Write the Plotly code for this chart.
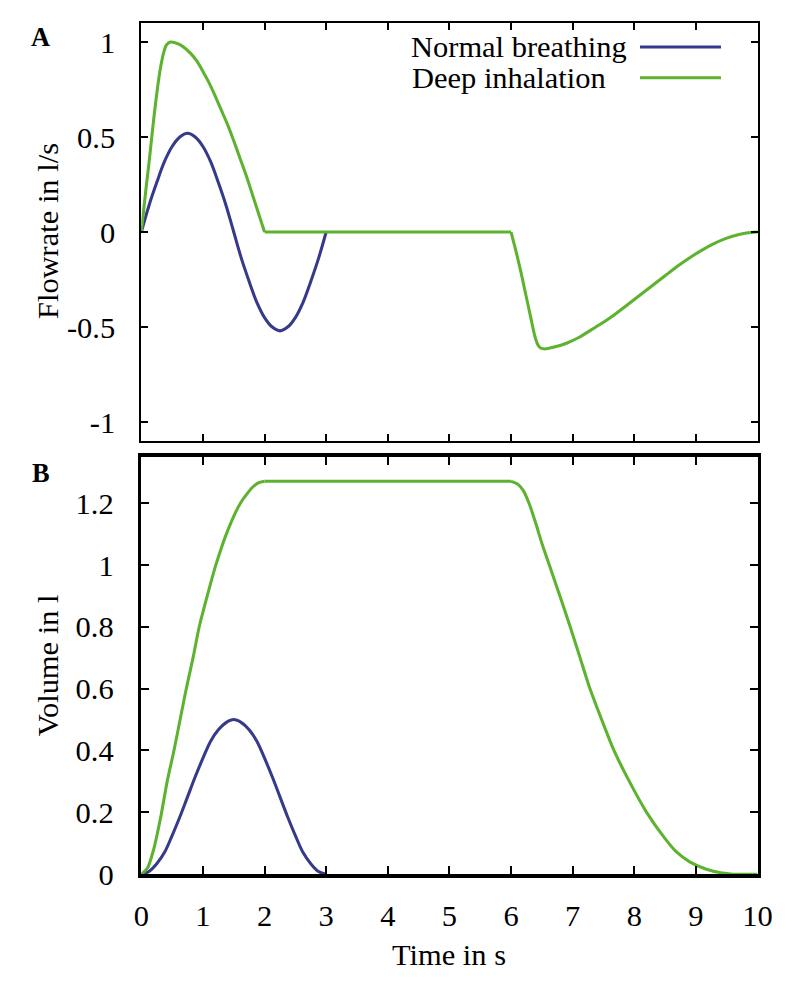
import plotly.graph_objects as go

# ---------------- data ----------------
t_normal = [0, 0.125, 0.25, 0.375, 0.5, 0.625, 0.75, 0.875, 1.0, 1.125, 1.25, 1.375, 1.5,
            1.625, 1.75, 1.875, 2.0, 2.125, 2.25, 2.375, 2.5, 2.625, 2.75, 2.875, 3.0]
flow_normal = [0, 0.14, 0.26, 0.37, 0.45, 0.50, 0.52, 0.50, 0.45, 0.37, 0.26, 0.14, 0,
               -0.14, -0.26, -0.37, -0.45, -0.50, -0.52, -0.50, -0.45, -0.37, -0.26, -0.14, 0]
vol_normal = [0, 0.009, 0.034, 0.07, 0.125, 0.185, 0.25, 0.315, 0.375, 0.43, 0.467, 0.49, 0.50,
              0.49, 0.467, 0.43, 0.375, 0.315, 0.25, 0.185, 0.125, 0.07, 0.034, 0.009, 0]

t_deep_flow = [0, 0.04, 0.08, 0.12, 0.16, 0.20, 0.24, 0.28, 0.32, 0.36, 0.40, 0.44, 0.48,
               0.6, 0.7, 0.8, 0.9, 1.0, 1.1, 1.2, 1.3, 1.4, 1.5, 1.6, 1.7, 1.8, 1.9, 2.0,
               6.0, 6.08, 6.16, 6.24, 6.32, 6.38, 6.43, 6.48, 6.55,
               6.7, 6.9, 7.1, 7.3, 7.5, 7.7, 7.9, 8.1, 8.3, 8.5, 8.7, 8.9, 9.1, 9.3, 9.5, 9.7, 9.85, 10.0]
flow_deep = [0, 0.12, 0.24, 0.35, 0.47, 0.59, 0.70, 0.80, 0.88, 0.94, 0.98, 0.995, 1.0,
             0.99, 0.97, 0.94, 0.90, 0.845, 0.785, 0.715, 0.64, 0.565, 0.48, 0.39, 0.30, 0.20, 0.10, 0,
             0, -0.10, -0.21, -0.33, -0.45, -0.54, -0.59, -0.61, -0.615,
             -0.605, -0.585, -0.555, -0.515, -0.475, -0.43, -0.38, -0.33, -0.28, -0.23, -0.18, -0.135,
             -0.095, -0.06, -0.032, -0.013, -0.004, 0]

t_deep_vol = [0, 0.1, 0.2, 0.32, 0.42, 0.53, 0.63, 0.73, 0.84, 0.94, 1.07, 1.21, 1.4, 1.61, 1.8, 1.9, 2.0,
              6.0, 6.1, 6.2, 6.3, 6.4, 6.5, 6.62, 6.8, 6.96, 7.12, 7.28, 7.47, 7.67, 7.92, 8.2, 8.5,
              8.68, 8.9, 9.16, 9.4, 9.6, 10.0]
vol_deep = [0, 0.02, 0.08, 0.19, 0.30, 0.40, 0.50, 0.60, 0.70, 0.80, 0.90, 1.0, 1.11, 1.20, 1.25, 1.265, 1.27,
            1.27, 1.262, 1.24, 1.195, 1.135, 1.07, 1.0, 0.895, 0.80, 0.70, 0.60, 0.50, 0.40, 0.30, 0.20, 0.115,
            0.073, 0.04, 0.017, 0.005, 0, 0]

x_ticks = list(range(0, 11))
flow_ticks = [-1, -0.5, 0, 0.5, 1]
flow_ticktext = ["-1", "-0.5", "0", "0.5", "1"]
vol_ticks = [0, 0.2, 0.4, 0.6, 0.8, 1.0, 1.2]
vol_ticktext = ["0", "0.2", "0.4", "0.6", "0.8", "1", "1.2"]

series_names = ["Normal breathing", "Deep inhalation"]
BLUE = "#353a8b"
GREEN = "#5db22f"

# design coordinates are in reference pixels (800 x 987); the page is captured
# slightly scaled, so the figure is enlarged by S to compensate
RW, RH = 800, 987
S = 1.0162
W, H = round(RW * S), round(RH * S)
FONT = "Liberation Serif"


def px_x(x):
    return x / RW


def px_y(y):
    return 1 - y / RH


def sz(v):
    return v * S


def isz(v):
    return int(round(v * S))


def seg(t, v, lo, hi):
    pts = [(a, b) for a, b in zip(t, v) if lo <= a <= hi]
    return [p[0] for p in pts], [p[1] for p in pts]


LW = sz(3)
fig = go.Figure()
fig.add_trace(go.Scatter(x=t_normal, y=flow_normal, mode="lines", name=series_names[0],
                         line=dict(color=BLUE, width=LW, shape="spline"), xaxis="x", yaxis="y"))
for lo, hi, shp in [(0, 2.0, "spline"), (2.0, 6.0, "linear"), (6.0, 10.0, "spline")]:
    xs, ys = seg(t_deep_flow, flow_deep, lo, hi)
    fig.add_trace(go.Scatter(x=xs, y=ys, mode="lines", name=series_names[1],
                             line=dict(color=GREEN, width=LW, shape=shp, smoothing=0.6),
                             xaxis="x", yaxis="y"))
fig.add_trace(go.Scatter(x=t_normal, y=vol_normal, mode="lines", name=series_names[0],
                         line=dict(color=BLUE, width=LW, shape="spline"), xaxis="x2", yaxis="y2"))
for lo, hi, shp in [(0, 2.0, "spline"), (2.0, 6.0, "linear"), (6.0, 9.6, "spline"), (9.6, 10.0, "linear")]:
    xs, ys = seg(t_deep_vol, vol_deep, lo, hi)
    fig.add_trace(go.Scatter(x=xs, y=ys, mode="lines", name=series_names[1],
                             line=dict(color=GREEN, width=LW, shape=shp, smoothing=0.6),
                             xaxis="x2", yaxis="y2"))

xdom = [px_x(135), px_x(759)]
common = dict(showgrid=False, zeroline=False, showline=True, linecolor="black",
              ticks="inside", mirror="ticks", tickcolor="black",
              tickfont=dict(family=FONT, size=sz(30), color="black"))

fig.update_layout(
    width=W, height=H,
    margin=dict(l=0, r=0, t=0, b=0),
    paper_bgcolor="white", plot_bgcolor="white",
    showlegend=False,
    xaxis=dict(domain=xdom, anchor="y", range=[0, 10], tickvals=x_ticks, showticklabels=False,
               linewidth=sz(2), ticklen=isz(7), tickwidth=sz(2), **common),
    yaxis=dict(domain=[px_y(442), px_y(23)], anchor="x", range=[-1.1, 1.1],
               tickvals=flow_ticks, ticktext=flow_ticktext,
               linewidth=sz(2), ticklen=isz(7), tickwidth=sz(2), ticklabelstandoff=isz(18), **common),
    xaxis2=dict(domain=xdom, anchor="y2", range=[0, 10], tickvals=x_ticks,
                linewidth=sz(3.5), ticklen=isz(8), tickwidth=sz(2), ticklabelstandoff=isz(12), **common),
    yaxis2=dict(domain=[px_y(876), px_y(457.5)], anchor="x2", range=[0, 1.35],
                tickvals=vol_ticks, ticktext=vol_ticktext,
                linewidth=sz(3.5), ticklen=isz(8), tickwidth=sz(2), ticklabelstandoff=isz(18), **common),
)

ann_font = dict(family=FONT, size=sz(30), color="black")
bold_font = dict(family=FONT, size=sz(26), color="black")
annotations = [
    dict(text="Flowrate in l/s", x=px_x(40), y=px_y(232), textangle=-90, font=ann_font),
    dict(text="Volume in l", x=px_x(40), y=px_y(667), textangle=-90, font=ann_font),
    dict(text="Time in s", x=px_x(447), y=px_y(957), font=ann_font),
    dict(text="<b>A</b>", x=px_x(33), y=px_y(37), font=bold_font),
    dict(text="<b>B</b>", x=px_x(33), y=px_y(474), font=bold_font),
    dict(text=series_names[0], x=px_x(406), y=px_y(47), xanchor="left", font=ann_font),
    dict(text=series_names[1], x=px_x(407), y=px_y(78), xanchor="left", font=ann_font),
]
for a in annotations:
    a.setdefault("xanchor", "center")
    a.setdefault("yanchor", "middle")
    fig.add_annotation(xref="paper", yref="paper", showarrow=False, **a)

for yy, col in [(47, BLUE), (78, GREEN)]:
    fig.add_shape(type="line", xref="paper", yref="paper",
                  x0=px_x(640), x1=px_x(722), y0=px_y(yy), y1=px_y(yy),
                  line=dict(color=col, width=LW))

fig.write_html("out.html",
               config={"displayModeBar": False, "staticPlot": True},
               post_script="document.body.style.margin='0';"
                           "document.documentElement.style.overflow='hidden';")
